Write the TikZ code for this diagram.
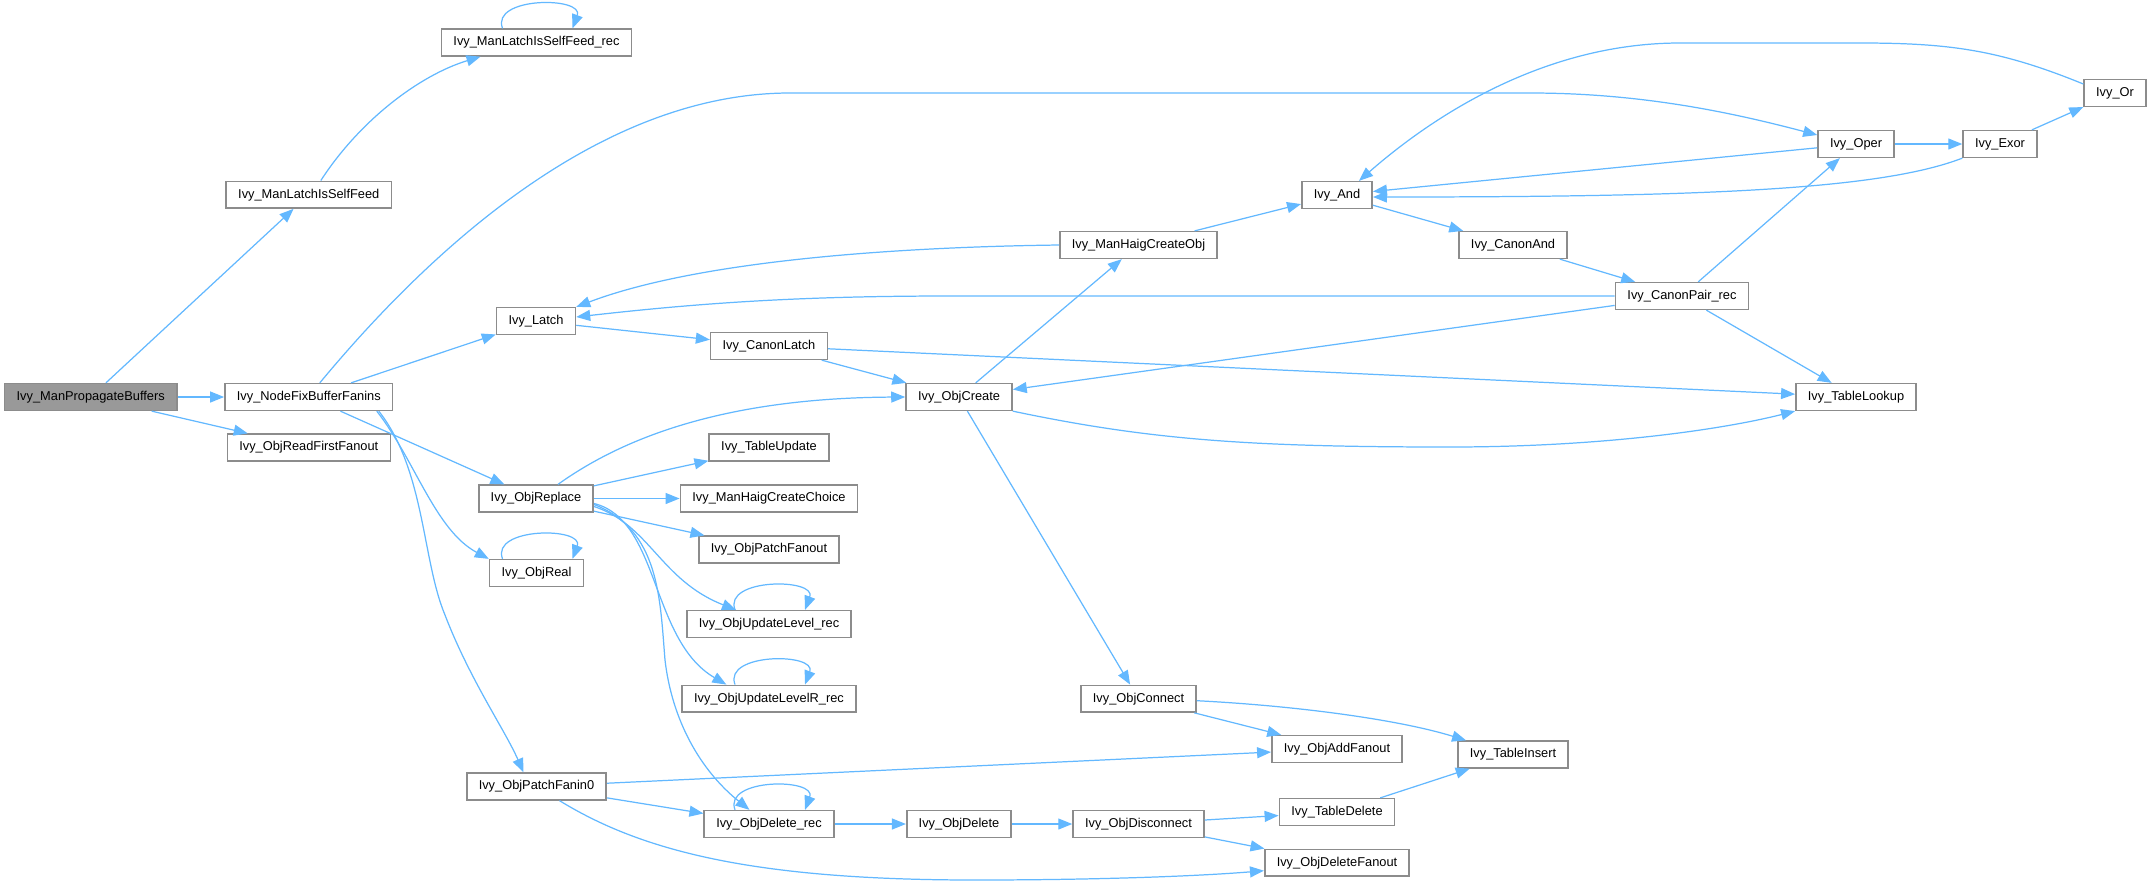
\documentclass[tikz,border=0pt]{standalone}
\usepackage{fontspec}
\setmainfont{Liberation Sans}
\usepackage{xcolor}
\usetikzlibrary{arrows.meta,positioning,calc}
\definecolor{callblue}{HTML}{63B8FF}
\definecolor{boxgrey}{HTML}{8C8C8C}
\definecolor{rootgrey}{HTML}{999999}

\begin{document}
\begin{tikzpicture}[
		x=0.02cm, y=-0.02cm,
		every node/.style={
			draw=boxgrey,
			line width=0.9pt,
			fill=white,
			minimum height=0.534cm,
			inner xsep=0.24cm,
			inner ysep=0pt,
			font=\fontsize{7.3pt}{8pt}\selectfont
		},
		rootnode/.style={fill=rootgrey},
		call/.style={
			-{Triangle[length=0.28cm,width=0.22cm]},
			draw=callblue,
			line width=0.7pt
		}
		]
		\useasboundingbox (0,0) rectangle (2151,887);
		
		% functions, column by column
		\node[rootnode] (mpb) at (90.7,397) {Ivy\_ManPropagateBuffers};
		
		\node (lsf) at (308.8,194.7) {Ivy\_ManLatchIsSelfFeed};
		\node (nfb) at (308.8,397) {Ivy\_NodeFixBufferFanins};
		\node (rff) at (308.8,447.5) {Ivy\_ObjReadFirstFanout};
		
		\node (lsfrec) at (536.5,42.5) {Ivy\_ManLatchIsSelfFeed\_rec};
		\node (latch) at (536,321) {Ivy\_Latch};
		\node (oreplace) at (536,498.5) {Ivy\_ObjReplace};
		\node (oreal) at (536.5,573) {Ivy\_ObjReal};
		\node (pfanin) at (536.5,786.5) {Ivy\_ObjPatchFanin0};
		
		\node (clatch) at (769,346) {Ivy\_CanonLatch};
		\node (tupdate) at (769,447.5) {Ivy\_TableUpdate};
		\node (hchoice) at (769,498.5) {Ivy\_ManHaigCreateChoice};
		\node (pfanout) at (769,549.5) {Ivy\_ObjPatchFanout};
		\node (ulev) at (769,624) {Ivy\_ObjUpdateLevel\_rec};
		\node (ulevr) at (769,698.7) {Ivy\_ObjUpdateLevelR\_rec};
		\node (delrec) at (769,824) {Ivy\_ObjDelete\_rec};
		
		\node (ocreate) at (959,397) {Ivy\_ObjCreate};
		\node (odelete) at (959,824) {Ivy\_ObjDelete};
		
		\node (hobj) at (1138.5,245) {Ivy\_ManHaigCreateObj};
		\node (oconnect) at (1138.5,698.7) {Ivy\_ObjConnect};
		\node (odisc) at (1138.5,824) {Ivy\_ObjDisconnect};
		
		\node (and) at (1337,195) {Ivy\_And};
		\node (afan) at (1337,749) {Ivy\_ObjAddFanout};
		\node (tdel) at (1337,812) {Ivy\_TableDelete};
		\node (dfan) at (1337,862.7) {Ivy\_ObjDeleteFanout};
		
		\node (cand) at (1513,245) {Ivy\_CanonAnd};
		\node (tins) at (1513,754.5) {Ivy\_TableInsert};
		\node (cpair) at (1682,296) {Ivy\_CanonPair\_rec};
		\node (oper) at (1856,144) {Ivy\_Oper};
		\node (tlook) at (1856,397) {Ivy\_TableLookup};
		\node (exor) at (2000,144) {Ivy\_Exor};
		\node (or) at (2115,93) {Ivy\_Or};
		
		% straight calls
		\draw[call] (mpb) -- (lsf);
		\draw[call] (mpb) -- (nfb);
		\draw[call] (mpb) -- (rff);
		\draw[call] (nfb) -- (latch);
		\draw[call] (nfb) -- (oreplace);
		\draw[call] (latch) -- (clatch);
		\draw[call] (clatch) -- (ocreate);
		\draw[call] (clatch) -- (tlook);
		\draw[call] (ocreate) -- (hobj);
		\draw[call] (ocreate) -- (oconnect);
		\draw[call] (hobj) -- (and);
		\draw[call] (and) -- (cand);
		\draw[call] (cand) -- (cpair);
		\draw[call] (cpair) -- (oper);
		\draw[call] (cpair) -- (tlook);
		\draw[call] (cpair) -- (ocreate);
		\draw[call] (oper) -- (exor);
		\draw[call] (oper) -- (and);
		\draw[call] (exor) -- (or);
		\draw[call] (oreplace) -- (tupdate);
		\draw[call] (oreplace) -- (hchoice);
		\draw[call] (oreplace) -- (pfanout);
		\draw[call] (pfanin) -- (afan);
		\draw[call] (pfanin) -- (delrec);
		\draw[call] (delrec) -- (odelete);
		\draw[call] (odelete) -- (odisc);
		\draw[call] (odisc) -- (tdel);
		\draw[call] (odisc) -- (dfan);
		\draw[call] (oconnect) -- (afan);
		\draw[call] (tdel) -- (tins);
		
		% curved calls
		\draw[call] ($(lsf.north)+(12,0)$) .. controls (360,120) and (420,75) .. ($(lsfrec.south)+(-56,0)$);
		\draw[call] ($(nfb.north)+(11,0)$) .. controls (430,250) and (600,93) .. (790,93) -- (1530,93) .. controls (1640,93) and (1730,112) .. ($(oper.west)+(0,-9)$);
		\draw[call] ($(nfb.south)+(68,0)$) .. controls (415,460) and (435,530) .. (oreal.north west);
		\draw[call] ($(nfb.south)+(70,0)$) .. controls (425,470) and (422,560) .. (445,615) .. controls (470,680) and (505,730) .. ($(pfanin.north)+(-13,0)$);
		\draw[call] (ocreate.south east) .. controls (1150,440) and (1250,447) .. (1450,447) .. controls (1600,447) and (1720,430) .. (tlook.south west);
		\draw[call] (hobj.west) .. controls (900,247) and (700,260) .. (latch.north east);
		\draw[call] (cpair.west) -- (950,296) .. controls (800,296) and (700,303) .. ($(latch.east)+(0,-4)$);
		\draw[call] (exor.south west) .. controls (1880,190) and (1700,197) .. ($(and.east)+(0,2)$);
		\draw[call] ($(or.west)+(0,-9)$) .. controls (2000,50) and (1950,43) .. (1860,43) -- (1680,43) .. controls (1550,43) and (1440,110) .. ($(and.north)+(22,0)$);
		\draw[call] ($(oreplace.north)+(22,0)$) .. controls (620,440) and (720,398) .. (ocreate.west);
		\draw[call] ($(oreplace.east)+(0,8)$) .. controls (650,525) and (660,580) .. ($(ulev.north west)+(50,0)$);
		\draw[call] ($(oreplace.east)+(0,5)$) .. controls (660,520) and (650,640) .. ($(ulevr.north west)+(45,0)$);
		\draw[call] ($(oreplace.east)+(0,6)$) .. controls (660,530) and (660,600) .. (665,660) .. controls (672,720) and (700,770) .. ($(delrec.north west)+(46,0)$);
		\draw[call] ($(pfanin.south)+(23,0)$) .. controls (640,850) and (750,880) .. (975,880) .. controls (1100,880) and (1200,876) .. ($(dfan.west)+(0,8)$);
		\draw[call] ($(oconnect.east)+(0,2)$) .. controls (1300,706) and (1400,720) .. ($(tins.north west)+(9,0)$);
		
		% recursive calls
		\foreach \n in {lsfrec,oreal,ulev,ulevr,delrec}
		\draw[call] ($(\n.north)+(-34,0)$) .. controls +(-12,-32) and +(12,-32) .. ($(\n.north)+(36,0)$);
		
	\end{tikzpicture}
\end{document}
